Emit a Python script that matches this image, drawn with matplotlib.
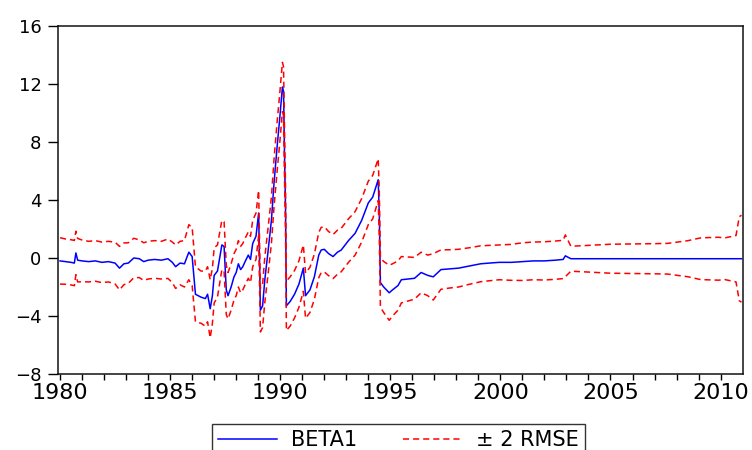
import matplotlib
matplotlib.use("Agg")
import matplotlib.pyplot as plt
import numpy as np

plt.rcParams["font.family"] = ["DejaVu Sans"]
plt.rcParams["font.size"] = 13

# time axis (fractional years), coefficient estimate and its RMSE
years = [
    1980.00, 1980.25, 1980.50, 1980.65, 1980.72, 1980.80, 1981.00, 1981.30,
    1981.60, 1981.90, 1982.20, 1982.50, 1982.70, 1982.90, 1983.10, 1983.35,
    1983.60, 1983.80, 1984.00, 1984.30, 1984.60, 1984.90, 1985.10, 1985.25,
    1985.45, 1985.65, 1985.85, 1986.00, 1986.15, 1986.40, 1986.60, 1986.70,
    1986.82, 1986.92, 1987.00, 1987.15, 1987.35, 1987.45, 1987.55, 1987.63,
    1987.77, 1987.90, 1988.00, 1988.10, 1988.20, 1988.30, 1988.42, 1988.55,
    1988.65, 1988.75, 1988.90, 1989.02,
    1989.10, 1989.20, 1989.30, 1989.45, 1989.60, 1989.72, 1989.86, 1989.97,
    1990.10, 1990.15, 1990.20, 1990.24, 1990.28, 1990.45, 1990.65, 1990.85,
    1991.05, 1991.15, 1991.35, 1991.55, 1991.75, 1991.86, 1992.00, 1992.20,
    1992.40, 1992.60, 1992.77, 1993.10, 1993.40, 1993.70, 1994.00, 1994.20,
    1994.45, 1994.50, 1994.55, 1994.70, 1994.95, 1995.10, 1995.35, 1995.50,
    1996.10, 1996.40, 1996.70, 1996.95, 1997.30, 1997.70, 1998.10, 1998.60,
    1999.10, 1999.50, 1999.95, 2000.50, 2001.00, 2001.50, 2002.00, 2002.50,
    2002.85, 2002.95, 2003.20, 2004.00, 2005.00, 2006.00, 2007.00, 2007.60,
    2008.50, 2009.10, 2009.90, 2010.20, 2010.70, 2010.85, 2010.95,
]
beta1 = [
    -0.20, -0.25, -0.30, -0.35, 0.35, -0.15, -0.20, -0.25,
    -0.20, -0.30, -0.25, -0.35, -0.70, -0.40, -0.35, 0.00,
    -0.05, -0.25, -0.15, -0.10, -0.15, -0.05, -0.30, -0.60,
    -0.35, -0.40, 0.40, 0.10, -2.50, -2.70, -2.80, -2.50,
    -3.50, -2.60, -1.20, -0.90, 0.90, 0.80, -2.20, -2.60,
    -2.00, -1.30, -1.00, -0.40, -0.80, -0.60, -0.20, 0.20,
    -0.10, 1.00, 1.50, 3.10,
    -3.60, -3.30, -1.50, 0.50, 2.60, 5.20, 7.70, 9.50,
    11.80, 11.50, 6.70, 3.50, -3.30, -3.00, -2.50, -1.80,
    -0.70, -2.60, -2.20, -1.30, 0.20, 0.55, 0.60, 0.30,
    0.10, 0.40, 0.55, 1.20, 1.70, 2.60, 3.80, 4.20,
    5.40, 3.00, -1.70, -2.00, -2.40, -2.20, -1.90, -1.50,
    -1.40, -1.00, -1.20, -1.30, -0.80, -0.75, -0.70, -0.55,
    -0.40, -0.35, -0.30, -0.30, -0.25, -0.20, -0.20, -0.15,
    -0.10, 0.15, -0.05, -0.05, -0.05, -0.05, -0.05, -0.05,
    -0.05, -0.05, -0.05, -0.05, -0.05, -0.05, -0.05,
]
rmse = [
    0.80, 0.78, 0.78, 0.78, 0.75, 0.75, 0.72, 0.70,
    0.70, 0.70, 0.70, 0.72, 0.75, 0.72, 0.70, 0.68,
    0.65, 0.65, 0.65, 0.65, 0.65, 0.68, 0.70, 0.75,
    0.75, 0.80, 0.95, 1.00, 0.95, 0.90, 0.95, 0.95,
    1.00, 0.95, 0.95, 0.90, 0.85, 0.85, 0.85, 0.80,
    0.80, 0.80, 0.80, 0.80, 0.80, 0.80, 0.80, 0.80,
    0.80, 0.80, 0.80, 0.78,
    0.75, 0.75, 0.78, 0.80, 0.80, 0.82, 0.85, 0.85,
    0.85, 0.85, 0.85, 0.85, 0.85, 0.85, 0.82, 0.80,
    0.80, 0.78, 0.78, 0.78, 0.78, 0.78, 0.78, 0.76,
    0.76, 0.76, 0.75, 0.75, 0.75, 0.75, 0.75, 0.75,
    0.72, 0.80, 0.85, 0.88, 0.95, 0.90, 0.85, 0.80,
    0.72, 0.70, 0.70, 0.80, 0.68, 0.66, 0.65, 0.63,
    0.62, 0.61, 0.60, 0.62, 0.65, 0.65, 0.66, 0.66,
    0.66, 0.72, 0.43, 0.46, 0.50, 0.51, 0.52, 0.53,
    0.62, 0.72, 0.74, 0.72, 0.80, 1.45, 1.50,
]

x = np.array(years)
b = np.array(beta1)
s = np.array(rmse)

fig = plt.figure(figsize=(7.52, 4.5), dpi=100)
ax = fig.add_axes([0.0775, 0.169, 0.910, 0.773])

ax.plot(x, b, color="#0000ff", lw=1.1, label="BETA1")
ax.plot(x, b + 2 * s, color="#ff0000", lw=1.1, dashes=(4, 2.6), label="± 2 RMSE")
ax.plot(x, b - 2 * s, color="#ff0000", lw=1.1, dashes=(4, 2.6))

ax.set_xlim(1979.92, 2011.0)
ax.set_ylim(-8, 16)
ax.set_yticks(range(-8, 17, 4))
ax.set_xticks(range(1980, 2011, 5))
ax.set_xticks(range(1980, 2011, 1), minor=True)

for spine in ax.spines.values():
    spine.set_linewidth(1.1)
    spine.set_color("#111111")

ax.tick_params(axis="y", direction="out", length=7, width=1, pad=5, right=False, labelsize=13)
ax.tick_params(axis="x", which="both", direction="out", length=4.5, width=1, pad=2, top=False)
ax.tick_params(axis="x", which="major", labelsize=16)

leg = fig.legend(
    loc="upper center",
    bbox_to_anchor=(0.53, 0.058),
    borderaxespad=0,
    ncol=2,
    frameon=True,
    fancybox=False,
    edgecolor="black",
    handlelength=2.8,
    handletextpad=0.7,
    columnspacing=2.2,
    borderpad=0.3,
    fontsize=15,
)
leg.get_frame().set_linewidth(1.0)

fig.savefig("out.png", dpi=100)
